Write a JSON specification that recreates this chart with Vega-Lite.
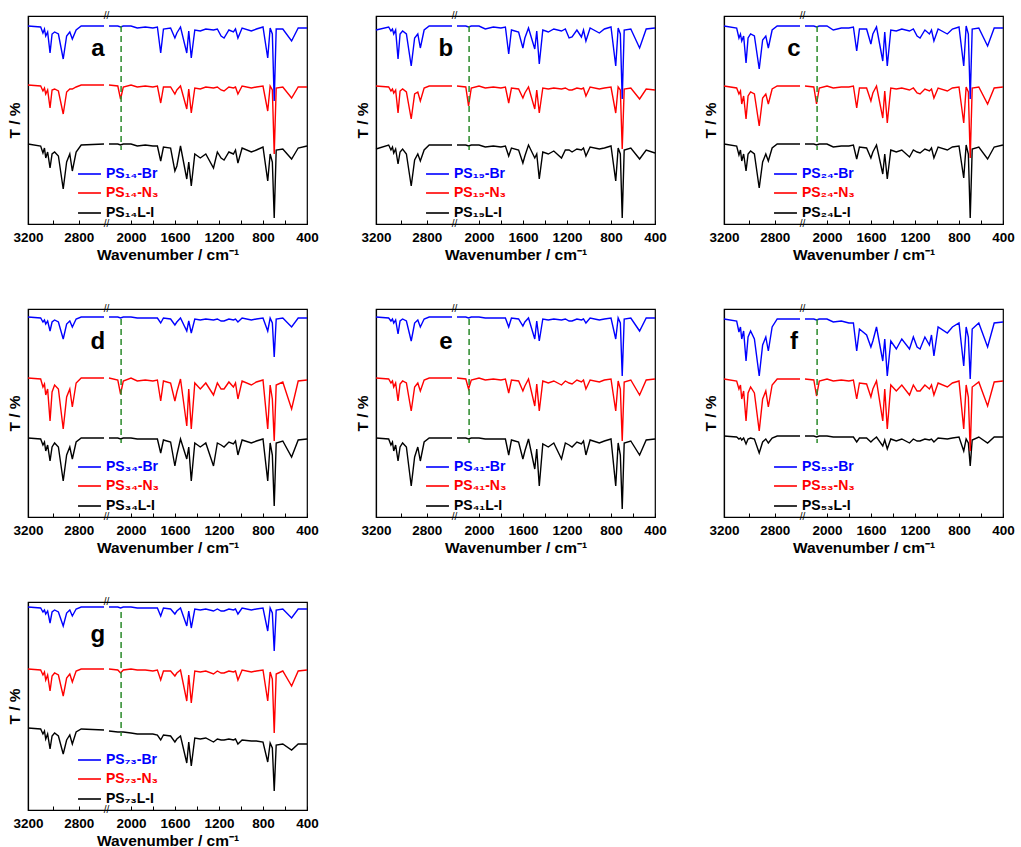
{
"$schema": "https://vega.github.io/schema/vega-lite/v6.json",
"padding": {"left": 6, "top": 9, "right": 10, "bottom": 0},
"background": "white",
"data": {"values": [
{"p":"a","lb":"PS₁₄-Br","ln":"PS₁₄-N₃","li":"PS₁₄L-I"},
{"p":"b","lb":"PS₁₉-Br","ln":"PS₁₉-N₃","li":"PS₁₉L-I"},
{"p":"c","lb":"PS₂₄-Br","ln":"PS₂₄-N₃","li":"PS₂₄L-I"},
{"p":"d","lb":"PS₃₄-Br","ln":"PS₃₄-N₃","li":"PS₃₄L-I"},
{"p":"e","lb":"PS₄₁-Br","ln":"PS₄₁-N₃","li":"PS₄₁L-I"},
{"p":"f","lb":"PS₅₃-Br","ln":"PS₅₃-N₃","li":"PS₅₃L-I"},
{"p":"g","lb":"PS₇₃-Br","ln":"PS₇₃-N₃","li":"PS₇₃L-I"},
{"p":"a","x":3200,"B":198,"N":139,"I":80},{"p":"a","x":3100,"B":197,"N":138,"I":78},{"p":"a","x":3082,"B":191,"N":133,"I":71},{"p":"a","x":3070,"B":195,"N":136,"I":76},{"p":"a","x":3060,"B":188,"N":130,"I":66},{"p":"a","x":3045,"B":192,"N":134,"I":72},{"p":"a","x":3026,"B":171,"N":116,"I":56},{"p":"a","x":3010,"B":190,"N":134,"I":70},{"p":"a","x":2990,"B":192,"N":135,"I":72},{"p":"a","x":2960,"B":190,"N":133,"I":68},{"p":"a","x":2922,"B":165,"N":110,"I":35},{"p":"a","x":2895,"B":188,"N":132,"I":62},{"p":"a","x":2870,"B":192,"N":135,"I":70},{"p":"a","x":2850,"B":185,"N":135,"I":53},{"p":"a","x":2820,"B":194,"N":137,"I":72},{"p":"a","x":2780,"B":198,"N":139,"I":79},{"p":"a","x":2600,"B":198,"N":139,"I":80},{"p":"a","x":2400,"B":null,"N":null,"I":null},{"p":"a","x":2200,"B":198,"N":139,"I":80},{"p":"a","x":2120,"B":198,"N":138,"I":80},{"p":"a","x":2095,"B":197,"N":125,"I":79},{"p":"a","x":2070,"B":198,"N":137,"I":80},{"p":"a","x":2000,"B":198,"N":139,"I":80},{"p":"a","x":1943,"B":196,"N":137,"I":78},{"p":"a","x":1870,"B":197,"N":138,"I":79},{"p":"a","x":1801,"B":196,"N":137,"I":78},{"p":"a","x":1760,"B":197,"N":138,"I":78},{"p":"a","x":1730,"B":171,"N":121,"I":63},{"p":"a","x":1705,"B":195,"N":137,"I":77},{"p":"a","x":1640,"B":196,"N":137,"I":76},{"p":"a","x":1601,"B":186,"N":130,"I":53},{"p":"a","x":1583,"B":191,"N":134,"I":58},{"p":"a","x":1550,"B":197,"N":138,"I":78},{"p":"a","x":1493,"B":171,"N":115,"I":45},{"p":"a","x":1475,"B":193,"N":135,"I":62},{"p":"a","x":1452,"B":166,"N":111,"I":38},{"p":"a","x":1420,"B":194,"N":136,"I":70},{"p":"a","x":1370,"B":193,"N":135,"I":66},{"p":"a","x":1320,"B":195,"N":137,"I":70},{"p":"a","x":1250,"B":194,"N":136,"I":56},{"p":"a","x":1215,"B":195,"N":137,"I":72},{"p":"a","x":1181,"B":188,"N":134,"I":66},{"p":"a","x":1154,"B":186,"N":133,"I":64},{"p":"a","x":1110,"B":194,"N":137,"I":72},{"p":"a","x":1069,"B":192,"N":136,"I":70},{"p":"a","x":1050,"B":195,"N":137,"I":74},{"p":"a","x":1028,"B":186,"N":130,"I":61},{"p":"a","x":990,"B":196,"N":138,"I":76},{"p":"a","x":906,"B":193,"N":136,"I":72},{"p":"a","x":860,"B":195,"N":137,"I":74},{"p":"a","x":800,"B":197,"N":138,"I":77},{"p":"a","x":757,"B":166,"N":113,"I":43},{"p":"a","x":735,"B":196,"N":138,"I":70},{"p":"a","x":715,"B":190,"N":134,"I":62},{"p":"a","x":698,"B":123,"N":70,"I":6},{"p":"a","x":680,"B":195,"N":136,"I":74},{"p":"a","x":620,"B":195,"N":137,"I":75},{"p":"a","x":540,"B":183,"N":126,"I":65},{"p":"a","x":480,"B":196,"N":137,"I":76},{"p":"a","x":400,"B":196,"N":137,"I":78},
{"p":"b","x":3200,"B":194,"N":138,"I":75},{"p":"b","x":3100,"B":197,"N":137,"I":79},{"p":"b","x":3082,"B":193,"N":133,"I":74},{"p":"b","x":3070,"B":195,"N":135,"I":77},{"p":"b","x":3060,"B":190,"N":131,"I":71},{"p":"b","x":3045,"B":194,"N":134,"I":75},{"p":"b","x":3026,"B":165,"N":111,"I":60},{"p":"b","x":3010,"B":190,"N":133,"I":72},{"p":"b","x":2990,"B":193,"N":135,"I":75},{"p":"b","x":2960,"B":190,"N":132,"I":70},{"p":"b","x":2922,"B":158,"N":105,"I":38},{"p":"b","x":2895,"B":186,"N":130,"I":64},{"p":"b","x":2870,"B":190,"N":132,"I":70},{"p":"b","x":2850,"B":176,"N":123,"I":63},{"p":"b","x":2820,"B":194,"N":136,"I":74},{"p":"b","x":2780,"B":198,"N":138,"I":79},{"p":"b","x":2600,"B":198,"N":138,"I":79},{"p":"b","x":2400,"B":null,"N":null,"I":null},{"p":"b","x":2200,"B":198,"N":138,"I":79},{"p":"b","x":2120,"B":198,"N":137,"I":79},{"p":"b","x":2095,"B":197,"N":118,"I":78},{"p":"b","x":2070,"B":198,"N":136,"I":79},{"p":"b","x":2000,"B":198,"N":138,"I":79},{"p":"b","x":1943,"B":195,"N":136,"I":77},{"p":"b","x":1870,"B":197,"N":137,"I":78},{"p":"b","x":1801,"B":196,"N":136,"I":77},{"p":"b","x":1760,"B":197,"N":137,"I":78},{"p":"b","x":1730,"B":170,"N":121,"I":68},{"p":"b","x":1705,"B":194,"N":136,"I":76},{"p":"b","x":1640,"B":192,"N":135,"I":74},{"p":"b","x":1601,"B":176,"N":126,"I":61},{"p":"b","x":1583,"B":186,"N":131,"I":68},{"p":"b","x":1550,"B":196,"N":137,"I":79},{"p":"b","x":1493,"B":175,"N":115,"I":66},{"p":"b","x":1475,"B":193,"N":134,"I":70},{"p":"b","x":1452,"B":160,"N":111,"I":45},{"p":"b","x":1420,"B":194,"N":136,"I":72},{"p":"b","x":1370,"B":192,"N":135,"I":70},{"p":"b","x":1320,"B":195,"N":136,"I":73},{"p":"b","x":1250,"B":193,"N":135,"I":66},{"p":"b","x":1215,"B":195,"N":136,"I":74},{"p":"b","x":1181,"B":186,"N":134,"I":74},{"p":"b","x":1154,"B":187,"N":134,"I":72},{"p":"b","x":1110,"B":194,"N":136,"I":75},{"p":"b","x":1069,"B":187,"N":135,"I":74},{"p":"b","x":1050,"B":194,"N":136,"I":76},{"p":"b","x":1028,"B":183,"N":128,"I":68},{"p":"b","x":990,"B":196,"N":137,"I":77},{"p":"b","x":906,"B":191,"N":135,"I":75},{"p":"b","x":860,"B":195,"N":136,"I":76},{"p":"b","x":800,"B":197,"N":137,"I":78},{"p":"b","x":757,"B":158,"N":111,"I":43},{"p":"b","x":735,"B":196,"N":137,"I":76},{"p":"b","x":715,"B":190,"N":134,"I":70},{"p":"b","x":698,"B":125,"N":75,"I":6},{"p":"b","x":680,"B":194,"N":135,"I":74},{"p":"b","x":620,"B":195,"N":136,"I":76},{"p":"b","x":540,"B":176,"N":125,"I":65},{"p":"b","x":480,"B":195,"N":135,"I":74},{"p":"b","x":400,"B":196,"N":134,"I":71},
{"p":"c","x":3200,"B":198,"N":138,"I":80},{"p":"c","x":3100,"B":196,"N":136,"I":78},{"p":"c","x":3082,"B":186,"N":130,"I":69},{"p":"c","x":3070,"B":190,"N":133,"I":74},{"p":"c","x":3060,"B":183,"N":120,"I":63},{"p":"c","x":3045,"B":188,"N":128,"I":70},{"p":"c","x":3026,"B":161,"N":105,"I":53},{"p":"c","x":3010,"B":186,"N":128,"I":70},{"p":"c","x":2990,"B":190,"N":132,"I":73},{"p":"c","x":2960,"B":188,"N":130,"I":70},{"p":"c","x":2922,"B":155,"N":98,"I":36},{"p":"c","x":2895,"B":184,"N":126,"I":62},{"p":"c","x":2870,"B":188,"N":130,"I":70},{"p":"c","x":2850,"B":176,"N":120,"I":63},{"p":"c","x":2820,"B":194,"N":135,"I":76},{"p":"c","x":2780,"B":198,"N":138,"I":80},{"p":"c","x":2600,"B":198,"N":138,"I":80},{"p":"c","x":2400,"B":null,"N":null,"I":null},{"p":"c","x":2200,"B":198,"N":138,"I":80},{"p":"c","x":2120,"B":198,"N":137,"I":80},{"p":"c","x":2095,"B":197,"N":120,"I":79},{"p":"c","x":2070,"B":198,"N":136,"I":80},{"p":"c","x":2000,"B":198,"N":138,"I":80},{"p":"c","x":1943,"B":194,"N":136,"I":77},{"p":"c","x":1870,"B":196,"N":137,"I":78},{"p":"c","x":1801,"B":196,"N":137,"I":78},{"p":"c","x":1760,"B":197,"N":138,"I":79},{"p":"c","x":1730,"B":173,"N":116,"I":65},{"p":"c","x":1705,"B":195,"N":136,"I":77},{"p":"c","x":1640,"B":195,"N":136,"I":76},{"p":"c","x":1601,"B":180,"N":123,"I":66},{"p":"c","x":1583,"B":190,"N":131,"I":72},{"p":"c","x":1550,"B":197,"N":138,"I":79},{"p":"c","x":1493,"B":163,"N":106,"I":50},{"p":"c","x":1475,"B":192,"N":133,"I":70},{"p":"c","x":1452,"B":158,"N":101,"I":45},{"p":"c","x":1420,"B":194,"N":136,"I":74},{"p":"c","x":1370,"B":193,"N":135,"I":72},{"p":"c","x":1320,"B":195,"N":136,"I":74},{"p":"c","x":1250,"B":193,"N":134,"I":67},{"p":"c","x":1215,"B":195,"N":136,"I":74},{"p":"c","x":1181,"B":188,"N":131,"I":72},{"p":"c","x":1154,"B":186,"N":130,"I":71},{"p":"c","x":1110,"B":194,"N":135,"I":75},{"p":"c","x":1069,"B":190,"N":133,"I":73},{"p":"c","x":1050,"B":194,"N":135,"I":76},{"p":"c","x":1028,"B":183,"N":126,"I":66},{"p":"c","x":990,"B":195,"N":136,"I":77},{"p":"c","x":906,"B":190,"N":133,"I":74},{"p":"c","x":860,"B":195,"N":136,"I":77},{"p":"c","x":800,"B":197,"N":137,"I":78},{"p":"c","x":757,"B":158,"N":101,"I":46},{"p":"c","x":735,"B":198,"N":137,"I":79},{"p":"c","x":715,"B":190,"N":132,"I":70},{"p":"c","x":698,"B":125,"N":66,"I":6},{"p":"c","x":680,"B":195,"N":136,"I":75},{"p":"c","x":620,"B":196,"N":137,"I":77},{"p":"c","x":540,"B":178,"N":120,"I":65},{"p":"c","x":480,"B":196,"N":136,"I":77},{"p":"c","x":400,"B":196,"N":137,"I":79},
{"p":"d","x":3200,"B":200,"N":139,"I":79},{"p":"d","x":3100,"B":199,"N":138,"I":78},{"p":"d","x":3082,"B":195,"N":130,"I":72},{"p":"d","x":3070,"B":197,"N":133,"I":75},{"p":"d","x":3060,"B":193,"N":122,"I":66},{"p":"d","x":3045,"B":196,"N":128,"I":72},{"p":"d","x":3026,"B":186,"N":96,"I":56},{"p":"d","x":3010,"B":195,"N":125,"I":70},{"p":"d","x":2990,"B":197,"N":132,"I":74},{"p":"d","x":2960,"B":195,"N":128,"I":70},{"p":"d","x":2922,"B":178,"N":88,"I":36},{"p":"d","x":2895,"B":193,"N":120,"I":62},{"p":"d","x":2870,"B":196,"N":128,"I":70},{"p":"d","x":2850,"B":190,"N":110,"I":58},{"p":"d","x":2820,"B":198,"N":134,"I":75},{"p":"d","x":2780,"B":200,"N":139,"I":79},{"p":"d","x":2600,"B":200,"N":139,"I":79},{"p":"d","x":2400,"B":null,"N":null,"I":null},{"p":"d","x":2200,"B":200,"N":139,"I":79},{"p":"d","x":2120,"B":200,"N":137,"I":79},{"p":"d","x":2095,"B":199,"N":123,"I":78},{"p":"d","x":2070,"B":200,"N":136,"I":79},{"p":"d","x":2000,"B":200,"N":139,"I":79},{"p":"d","x":1943,"B":199,"N":136,"I":78},{"p":"d","x":1870,"B":199,"N":137,"I":78},{"p":"d","x":1801,"B":199,"N":136,"I":78},{"p":"d","x":1760,"B":199,"N":137,"I":78},{"p":"d","x":1730,"B":194,"N":116,"I":64},{"p":"d","x":1705,"B":199,"N":136,"I":77},{"p":"d","x":1640,"B":198,"N":134,"I":75},{"p":"d","x":1601,"B":192,"N":116,"I":51},{"p":"d","x":1583,"B":195,"N":125,"I":62},{"p":"d","x":1550,"B":199,"N":138,"I":78},{"p":"d","x":1493,"B":186,"N":91,"I":58},{"p":"d","x":1475,"B":196,"N":128,"I":70},{"p":"d","x":1452,"B":184,"N":88,"I":36},{"p":"d","x":1420,"B":198,"N":134,"I":74},{"p":"d","x":1370,"B":197,"N":128,"I":70},{"p":"d","x":1320,"B":198,"N":134,"I":74},{"p":"d","x":1250,"B":197,"N":122,"I":51},{"p":"d","x":1215,"B":198,"N":134,"I":74},{"p":"d","x":1181,"B":196,"N":128,"I":72},{"p":"d","x":1154,"B":196,"N":128,"I":70},{"p":"d","x":1110,"B":198,"N":135,"I":75},{"p":"d","x":1069,"B":197,"N":130,"I":73},{"p":"d","x":1050,"B":198,"N":134,"I":76},{"p":"d","x":1028,"B":195,"N":118,"I":62},{"p":"d","x":990,"B":199,"N":136,"I":77},{"p":"d","x":906,"B":197,"N":132,"I":74},{"p":"d","x":860,"B":198,"N":135,"I":76},{"p":"d","x":800,"B":199,"N":137,"I":78},{"p":"d","x":757,"B":186,"N":88,"I":36},{"p":"d","x":735,"B":199,"N":132,"I":74},{"p":"d","x":715,"B":194,"N":118,"I":62},{"p":"d","x":698,"B":160,"N":76,"I":11},{"p":"d","x":680,"B":198,"N":132,"I":74},{"p":"d","x":620,"B":199,"N":135,"I":76},{"p":"d","x":540,"B":190,"N":108,"I":60},{"p":"d","x":480,"B":199,"N":136,"I":77},{"p":"d","x":400,"B":199,"N":137,"I":78},
{"p":"e","x":3200,"B":200,"N":139,"I":79},{"p":"e","x":3100,"B":199,"N":138,"I":78},{"p":"e","x":3082,"B":196,"N":134,"I":72},{"p":"e","x":3070,"B":198,"N":136,"I":75},{"p":"e","x":3060,"B":194,"N":130,"I":66},{"p":"e","x":3045,"B":197,"N":134,"I":72},{"p":"e","x":3026,"B":183,"N":116,"I":56},{"p":"e","x":3010,"B":196,"N":133,"I":70},{"p":"e","x":2990,"B":198,"N":136,"I":74},{"p":"e","x":2960,"B":196,"N":134,"I":70},{"p":"e","x":2922,"B":176,"N":106,"I":31},{"p":"e","x":2895,"B":194,"N":130,"I":60},{"p":"e","x":2870,"B":197,"N":134,"I":70},{"p":"e","x":2850,"B":190,"N":126,"I":56},{"p":"e","x":2820,"B":198,"N":137,"I":75},{"p":"e","x":2780,"B":200,"N":139,"I":79},{"p":"e","x":2600,"B":200,"N":139,"I":79},{"p":"e","x":2400,"B":null,"N":null,"I":null},{"p":"e","x":2200,"B":200,"N":139,"I":79},{"p":"e","x":2120,"B":200,"N":138,"I":79},{"p":"e","x":2095,"B":199,"N":128,"I":78},{"p":"e","x":2070,"B":200,"N":137,"I":79},{"p":"e","x":2000,"B":200,"N":139,"I":79},{"p":"e","x":1943,"B":199,"N":137,"I":78},{"p":"e","x":1870,"B":199,"N":138,"I":78},{"p":"e","x":1801,"B":199,"N":137,"I":78},{"p":"e","x":1760,"B":199,"N":138,"I":78},{"p":"e","x":1730,"B":190,"N":124,"I":62},{"p":"e","x":1705,"B":199,"N":137,"I":77},{"p":"e","x":1640,"B":198,"N":136,"I":75},{"p":"e","x":1601,"B":191,"N":126,"I":58},{"p":"e","x":1583,"B":195,"N":131,"I":66},{"p":"e","x":1550,"B":199,"N":138,"I":78},{"p":"e","x":1493,"B":178,"N":111,"I":48},{"p":"e","x":1475,"B":196,"N":133,"I":68},{"p":"e","x":1452,"B":176,"N":106,"I":31},{"p":"e","x":1420,"B":198,"N":136,"I":73},{"p":"e","x":1370,"B":197,"N":134,"I":70},{"p":"e","x":1320,"B":198,"N":136,"I":74},{"p":"e","x":1250,"B":197,"N":132,"I":58},{"p":"e","x":1215,"B":198,"N":136,"I":74},{"p":"e","x":1181,"B":196,"N":134,"I":72},{"p":"e","x":1154,"B":196,"N":133,"I":70},{"p":"e","x":1110,"B":198,"N":137,"I":75},{"p":"e","x":1069,"B":197,"N":135,"I":73},{"p":"e","x":1050,"B":198,"N":137,"I":76},{"p":"e","x":1028,"B":194,"N":128,"I":62},{"p":"e","x":990,"B":199,"N":137,"I":77},{"p":"e","x":906,"B":197,"N":135,"I":74},{"p":"e","x":860,"B":198,"N":137,"I":76},{"p":"e","x":800,"B":199,"N":138,"I":78},{"p":"e","x":757,"B":178,"N":106,"I":31},{"p":"e","x":735,"B":199,"N":136,"I":74},{"p":"e","x":715,"B":194,"N":128,"I":62},{"p":"e","x":698,"B":141,"N":76,"I":8},{"p":"e","x":680,"B":198,"N":135,"I":74},{"p":"e","x":620,"B":199,"N":137,"I":76},{"p":"e","x":540,"B":186,"N":122,"I":62},{"p":"e","x":480,"B":199,"N":137,"I":77},{"p":"e","x":400,"B":199,"N":138,"I":78},
{"p":"f","x":3200,"B":198,"N":138,"I":81},{"p":"f","x":3100,"B":196,"N":136,"I":80},{"p":"f","x":3082,"B":185,"N":128,"I":78},{"p":"f","x":3070,"B":190,"N":132,"I":79},{"p":"f","x":3060,"B":178,"N":118,"I":77},{"p":"f","x":3045,"B":186,"N":126,"I":79},{"p":"f","x":3026,"B":156,"N":96,"I":73},{"p":"f","x":3010,"B":180,"N":124,"I":78},{"p":"f","x":2990,"B":186,"N":130,"I":79},{"p":"f","x":2960,"B":178,"N":124,"I":78},{"p":"f","x":2922,"B":141,"N":86,"I":64},{"p":"f","x":2895,"B":172,"N":118,"I":75},{"p":"f","x":2870,"B":180,"N":126,"I":78},{"p":"f","x":2850,"B":166,"N":110,"I":74},{"p":"f","x":2820,"B":190,"N":132,"I":79},{"p":"f","x":2780,"B":198,"N":138,"I":81},{"p":"f","x":2600,"B":198,"N":138,"I":81},{"p":"f","x":2400,"B":null,"N":null,"I":null},{"p":"f","x":2200,"B":198,"N":138,"I":81},{"p":"f","x":2120,"B":198,"N":137,"I":81},{"p":"f","x":2095,"B":197,"N":121,"I":80},{"p":"f","x":2070,"B":198,"N":136,"I":81},{"p":"f","x":2000,"B":198,"N":138,"I":81},{"p":"f","x":1943,"B":195,"N":136,"I":80},{"p":"f","x":1870,"B":196,"N":137,"I":80},{"p":"f","x":1801,"B":194,"N":136,"I":80},{"p":"f","x":1760,"B":194,"N":137,"I":80},{"p":"f","x":1730,"B":166,"N":118,"I":75},{"p":"f","x":1705,"B":188,"N":134,"I":79},{"p":"f","x":1640,"B":182,"N":133,"I":79},{"p":"f","x":1601,"B":170,"N":120,"I":75},{"p":"f","x":1583,"B":176,"N":128,"I":77},{"p":"f","x":1550,"B":190,"N":136,"I":80},{"p":"f","x":1493,"B":156,"N":96,"I":71},{"p":"f","x":1475,"B":178,"N":128,"I":77},{"p":"f","x":1452,"B":141,"N":88,"I":68},{"p":"f","x":1420,"B":176,"N":132,"I":78},{"p":"f","x":1370,"B":168,"N":126,"I":76},{"p":"f","x":1320,"B":178,"N":132,"I":78},{"p":"f","x":1250,"B":168,"N":122,"I":74},{"p":"f","x":1215,"B":180,"N":132,"I":78},{"p":"f","x":1181,"B":170,"N":126,"I":76},{"p":"f","x":1154,"B":168,"N":126,"I":76},{"p":"f","x":1110,"B":180,"N":132,"I":78},{"p":"f","x":1069,"B":172,"N":128,"I":77},{"p":"f","x":1050,"B":182,"N":132,"I":78},{"p":"f","x":1028,"B":161,"N":122,"I":75},{"p":"f","x":990,"B":190,"N":134,"I":79},{"p":"f","x":906,"B":184,"N":130,"I":78},{"p":"f","x":860,"B":190,"N":134,"I":79},{"p":"f","x":800,"B":194,"N":136,"I":80},{"p":"f","x":757,"B":151,"N":88,"I":66},{"p":"f","x":735,"B":190,"N":132,"I":78},{"p":"f","x":715,"B":180,"N":120,"I":74},{"p":"f","x":698,"B":138,"N":66,"I":51},{"p":"f","x":680,"B":188,"N":130,"I":77},{"p":"f","x":620,"B":194,"N":135,"I":80},{"p":"f","x":540,"B":170,"N":111,"I":74},{"p":"f","x":480,"B":194,"N":135,"I":80},{"p":"f","x":400,"B":195,"N":136,"I":80},
{"p":"g","x":3200,"B":203,"N":141,"I":82},{"p":"g","x":3100,"B":202,"N":140,"I":81},{"p":"g","x":3082,"B":198,"N":135,"I":76},{"p":"g","x":3070,"B":200,"N":138,"I":79},{"p":"g","x":3060,"B":196,"N":130,"I":71},{"p":"g","x":3045,"B":199,"N":135,"I":76},{"p":"g","x":3026,"B":187,"N":119,"I":61},{"p":"g","x":3010,"B":198,"N":134,"I":74},{"p":"g","x":2990,"B":200,"N":137,"I":77},{"p":"g","x":2960,"B":198,"N":135,"I":74},{"p":"g","x":2922,"B":184,"N":114,"I":56},{"p":"g","x":2895,"B":197,"N":132,"I":70},{"p":"g","x":2870,"B":200,"N":136,"I":75},{"p":"g","x":2850,"B":194,"N":128,"I":66},{"p":"g","x":2820,"B":201,"N":139,"I":78},{"p":"g","x":2780,"B":203,"N":141,"I":81},{"p":"g","x":2600,"B":203,"N":141,"I":80},{"p":"g","x":2400,"B":null,"N":null,"I":null},{"p":"g","x":2200,"B":203,"N":141,"I":79},{"p":"g","x":2120,"B":203,"N":140,"I":78},{"p":"g","x":2095,"B":202,"N":137,"I":78},{"p":"g","x":2070,"B":203,"N":140,"I":78},{"p":"g","x":2000,"B":203,"N":141,"I":77},{"p":"g","x":1943,"B":202,"N":140,"I":76},{"p":"g","x":1870,"B":202,"N":140,"I":76},{"p":"g","x":1801,"B":202,"N":139,"I":76},{"p":"g","x":1760,"B":202,"N":140,"I":75},{"p":"g","x":1730,"B":194,"N":130,"I":70},{"p":"g","x":1705,"B":202,"N":139,"I":75},{"p":"g","x":1640,"B":201,"N":139,"I":74},{"p":"g","x":1601,"B":196,"N":134,"I":68},{"p":"g","x":1583,"B":199,"N":137,"I":71},{"p":"g","x":1550,"B":202,"N":140,"I":74},{"p":"g","x":1493,"B":184,"N":109,"I":47},{"p":"g","x":1475,"B":199,"N":135,"I":68},{"p":"g","x":1452,"B":182,"N":107,"I":44},{"p":"g","x":1420,"B":201,"N":139,"I":72},{"p":"g","x":1370,"B":200,"N":138,"I":71},{"p":"g","x":1320,"B":201,"N":139,"I":72},{"p":"g","x":1250,"B":199,"N":136,"I":68},{"p":"g","x":1215,"B":201,"N":139,"I":71},{"p":"g","x":1181,"B":199,"N":137,"I":70},{"p":"g","x":1154,"B":199,"N":137,"I":70},{"p":"g","x":1110,"B":201,"N":139,"I":71},{"p":"g","x":1069,"B":200,"N":138,"I":70},{"p":"g","x":1050,"B":201,"N":139,"I":71},{"p":"g","x":1028,"B":196,"N":130,"I":66},{"p":"g","x":990,"B":202,"N":140,"I":70},{"p":"g","x":906,"B":200,"N":138,"I":69},{"p":"g","x":860,"B":201,"N":139,"I":69},{"p":"g","x":800,"B":202,"N":140,"I":68},{"p":"g","x":757,"B":179,"N":109,"I":48},{"p":"g","x":735,"B":202,"N":138,"I":67},{"p":"g","x":715,"B":197,"N":131,"I":62},{"p":"g","x":698,"B":159,"N":77,"I":19},{"p":"g","x":680,"B":200,"N":136,"I":65},{"p":"g","x":620,"B":201,"N":139,"I":66},{"p":"g","x":540,"B":192,"N":124,"I":60},{"p":"g","x":480,"B":201,"N":139,"I":66},{"p":"g","x":400,"B":201,"N":140,"I":66}
]},
"facet": {"field": "p", "type": "nominal", "title": null, "header": {"labelExpr": "''", "labelPadding": 0, "labelFontSize": 1, "title": null}},
"columns": 3,
"bounds": "flush",
"spacing": {"row": 85, "column": 69},
"resolve": {"axis": {"x": "independent", "y": "independent"}},
"spec": {
  "width": 279,
  "height": 208,
  "layer": [
    {
      "transform": [{"filter": "isValid(datum.x)"}, {"fold": ["I", "N", "B"], "as": ["s", "v"]}],
      "mark": {"type": "line", "strokeWidth": 1.4, "invalid": "break-paths-show-domains"},
      "encoding": {
        "x": {"field": "x", "type": "quantitative",
              "scale": {"domain": [3200, 2600, 2200, 400], "range": [0, 76, 81, 279]},
              "axis": {"title": "Wavenumber / cm⁻¹", "values": [3200,3000,2800,2000,1800,1600,1400,1200,1000,800,600,400],
                       "tickCount": 30,
                       "labelExpr": "datum.value % 400 == 0 ? datum.label : ''", "format": "d",
                       "tickSize": -4, "labelPadding": 10, "labelFlush": false, "labelOverlap": false, "titlePadding": 4}},
        "y": {"field": "v", "type": "quantitative", "scale": {"domain": [0, 208], "nice": false, "zero": false},
              "axis": {"title": "T / %", "ticks": false, "labels": false, "titlePadding": 6}},
        "color": {"field": "s", "type": "nominal", "scale": {"domain": ["B", "N", "I"], "range": ["#0000ff", "#ff0000", "#000000"]}, "legend": null}
      }
    },
    {
      "transform": [{"filter": "isValid(datum.lb)"}],
      "mark": {"type": "rule", "color": "#2a8a2a", "strokeDash": [6, 4], "strokeWidth": 1.5},
      "encoding": {"x": {"datum": 2090}, "y": {"datum": 198}, "y2": {"datum": 74}}
    },
    {
      "transform": [{"filter": "isValid(datum.lb)"}],
      "mark": {"type": "text", "fontSize": 24, "fontWeight": "bold", "align": "center", "baseline": "middle", "color": "#000"},
      "encoding": {"x": {"datum": 2648}, "y": {"datum": 175}, "text": {"field": "p"}}
    },
    {
      "transform": [{"filter": "isValid(datum.lb)"}],
      "mark": {"type": "rule", "color": "#0000ff", "strokeWidth": 1.6},
      "encoding": {"x": {"datum": 2805}, "x2": {"datum": 2624}, "y": {"datum": 50}}
    },
    {
      "transform": [{"filter": "isValid(datum.lb)"}],
      "mark": {"type": "rule", "color": "#ff0000", "strokeWidth": 1.6},
      "encoding": {"x": {"datum": 2805}, "x2": {"datum": 2624}, "y": {"datum": 31}}
    },
    {
      "transform": [{"filter": "isValid(datum.lb)"}],
      "mark": {"type": "rule", "color": "#000000", "strokeWidth": 1.6},
      "encoding": {"x": {"datum": 2805}, "x2": {"datum": 2624}, "y": {"datum": 11}}
    },
    {
      "transform": [{"filter": "isValid(datum.lb)"}],
      "mark": {"type": "text", "fontSize": 14, "fontWeight": "bold", "align": "left", "baseline": "middle", "color": "#0000ff"},
      "encoding": {"x": {"datum": 2440}, "y": {"datum": 50}, "text": {"field": "lb"}}
    },
    {
      "transform": [{"filter": "isValid(datum.lb)"}],
      "mark": {"type": "text", "fontSize": 14, "fontWeight": "bold", "align": "left", "baseline": "middle", "color": "#ff0000"},
      "encoding": {"x": {"datum": 2440}, "y": {"datum": 31}, "text": {"field": "ln"}}
    },
    {
      "transform": [{"filter": "isValid(datum.lb)"}],
      "mark": {"type": "text", "fontSize": 14, "fontWeight": "bold", "align": "left", "baseline": "middle", "color": "#000000"},
      "encoding": {"x": {"datum": 2440}, "y": {"datum": 11}, "text": {"field": "li"}}
    },
    {
      "transform": [{"filter": "isValid(datum.lb)"}],
      "mark": {"type": "text", "fontSize": 10, "align": "center", "baseline": "middle", "color": "#000000", "text": "//"},
      "encoding": {"x": {"datum": 2400}, "y": {"datum": 208}}
    },
    {
      "transform": [{"filter": "isValid(datum.lb)"}],
      "mark": {"type": "text", "fontSize": 10, "align": "center", "baseline": "middle", "color": "#000000", "text": "//"},
      "encoding": {"x": {"datum": 2400}, "y": {"datum": 0}}
    }
  ]
},
"config": {
  "font": "Liberation Sans",
  "view": {"stroke": "#000000", "strokeWidth": 1.2},
  "axis": {"labelFont": "Liberation Sans", "titleFont": "Liberation Sans", "labelFontWeight": "bold", "labelFontSize": 13.5, "labelColor": "#000000",
           "titleFontSize": 15.5, "titleFontWeight": "bold", "titleColor": "#000000", "domainColor": "#000000", "domainWidth": 1.2,
           "tickColor": "#000000", "grid": false},
  "text": {"font": "Liberation Sans"}
}
}
